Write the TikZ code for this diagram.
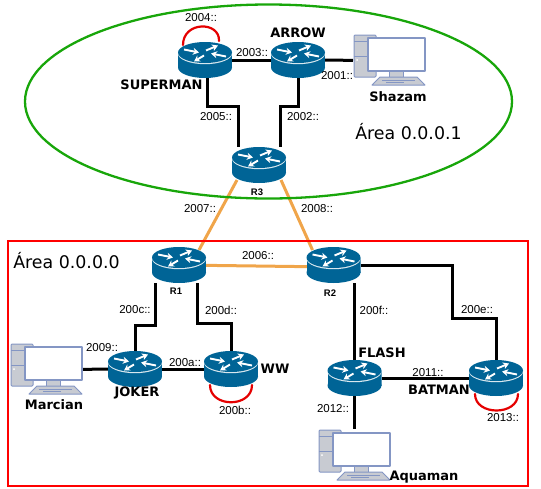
\documentclass[tikz,border=0pt]{standalone}
\usepackage{fontspec}
\setmainfont{Liberation Sans}
\newfontfamily\dvb{DejaVu Sans}
\usetikzlibrary{arrows.meta,backgrounds,calc,shapes.geometric}
\definecolor{rblue}{HTML}{006496}
\definecolor{pcedge}{HTML}{8496C4}
\definecolor{pcgray}{HTML}{C8CBD2}
\definecolor{areagreen}{HTML}{18A60A}
\definecolor{linkorange}{HTML}{F0A54A}
\newcommand{\routerart}{%
 \begin{scope}[shift={(path picture bounding box.center)},x=1pt,y=-1pt]
  \fill[rblue] (-27,-7.5) rectangle (27,7.5);
  \fill[rblue] (0,7.5) ellipse [x radius=27,y radius=10.5];
  \fill[white!85!rblue] (0,-6.3) ellipse [x radius=27,y radius=10.5];
  \fill[rblue] (0,-7.5) ellipse [x radius=27,y radius=10.5];
  \begin{scope}[white,line width=1.9pt,-{Stealth[length=6pt,width=7pt]}]
   \draw (-21,-10.5) -- (-6,-7.5);
   \draw (1,-9.5) -- (13,-14.5);
   \draw (21,-3.5) -- (6,-6.5);
   \draw (-1,-4.5) -- (-11,1.5);
  \end{scope}
 \end{scope}}
\newcommand{\pcart}{%
 \begin{scope}[x=1pt,y=-1pt,draw=pcedge,line width=1pt,line join=round]
  \draw[fill=pcgray,rounded corners=1pt] (-35.5,-25.5) rectangle (-13.5,16.5);
  \draw (-35.5,-19.5) -- (-13.5,-19.5) (-35.5,-4.5) -- (-13.5,-4.5);
  \fill[white] (-32.5,-0.5) circle [radius=1];
  \draw[fill=pcgray] (-0.5,10.5) rectangle (13.5,16.5);
  \draw[fill=white,line width=1.7pt] (-21.5,-22.5) rectangle (35.5,10.5);
  \draw[fill=pcgray] (-9.5,16.5) -- (27.5,16.5) -- (35.5,24.5) -- (-17.5,24.5) -- cycle;
  \draw[line width=.6pt] (-7.5,19.5) -- (25.5,19.5) (-3.5,22) -- (14.5,22);
 \end{scope}}
\tikzset{
 rtr/.style={rectangle,inner sep=0pt,outer sep=0pt,minimum width=54pt,minimum height=36pt,path picture={\routerart}},
 pc/.style={rectangle,inner sep=0pt,outer sep=0pt,minimum width=73pt,minimum height=53pt,path picture={\pcart}},
 addr/.style={font=\fontsize{11.5pt}{13pt}\selectfont,inner sep=0pt},
 bname/.style={font=\dvb\bfseries\fontsize{13pt}{15pt}\selectfont,inner sep=0pt},
 sname/.style={font=\bfseries\fontsize{9.5pt}{11pt}\selectfont,inner sep=0pt},
 areaname/.style={font=\dvb\fontsize{17.4pt}{20pt}\selectfont,inner sep=0pt},
 wire/.style={line width=3pt,black},
 orangewire/.style={line width=3pt,linkorange},
 loopwire/.style={line width=2.2pt,red!90!black,line cap=round}
}
\begin{document}
\begin{tikzpicture}[x=1pt,y=-1pt]
\useasboundingbox (0,0) rectangle (541,488);
% areas
\node[draw=areagreen,line width=2.3pt,ellipse,inner sep=0pt,outer sep=0pt,minimum width=487pt,minimum height=194pt] (ell) at (268.5,101.5) {};
\node[draw=red,line width=2pt,rectangle,inner sep=0pt,outer sep=0pt,minimum width=520pt,minimum height=245pt] (box) at (268,363.5) {};
% routers
\node[rtr] (sup) at (205,60) {};
\node[rtr] (arr) at (298,60) {};
\node[rtr] (r3) at (259,165) {};
\node[rtr] (r1) at (179,265) {};
\node[rtr] (r2) at (333.5,265) {};
\node[rtr] (jok) at (135,369) {};
\node[rtr] (ww) at (231,369) {};
\node[rtr] (fla) at (354.5,378) {};
\node[rtr] (bat) at (496,378) {};
% computers
\node[pc] (sha) at (389.5,60.5) {};
\node[pc] (mar) at (46.5,369.5) {};
\node[pc] (aqu) at (354.5,455.5) {};
% connectors
\begin{pgfonlayer}{background}
\draw[wire] (sup) -- (arr);
\draw[wire] (arr) -- (sha);
\draw[wire] ([xshift=2pt]sup.south) -- ++(0,28) -| ([xshift=-21pt]r3.north);
\draw[wire] (arr.south) -- ++(0,28) -| ([xshift=21pt]r3.north);
\draw[wire] (mar) -- (jok);
\draw[wire] (jok) -- (ww);
\draw[wire] ([xshift=-24pt]r1.south) -- ++(0,42) -| (jok.north);
\draw[wire] ([xshift=18pt]r1.south) -- ++(0,40) -| (ww.north);
\draw[wire] ([xshift=21pt]r2.south) -- (fla.north);
\draw[wire] (r2) -- ++(118.5,0) |- ($(bat.north)+(0,-42)$) -- (bat.north);
\draw[wire] (fla) -- (bat);
\draw[wire] (fla) -- (aqu);
\draw[orangewire] ([xshift=-22pt,yshift=3pt]r3.south) -- ([xshift=20pt,yshift=-3pt]r1.north);
\draw[orangewire] ([xshift=22pt,yshift=3pt]r3.south) -- ([xshift=-21pt,yshift=-3pt]r2.north);
\draw[orangewire] ([yshift=0pt]r1.center) -- ([yshift=-2pt]r2.center);
\draw[loopwire] ([xshift=-22pt,yshift=-3pt]sup.north) .. controls ([xshift=-22pt,yshift=21pt]sup.north) and ([xshift=15pt,yshift=21pt]sup.north) .. ([xshift=14pt,yshift=1pt]sup.north);
\draw[loopwire] ([xshift=-21pt,yshift=2pt]ww.south) .. controls ([xshift=-21pt,yshift=-21pt]ww.south) and ([xshift=21pt,yshift=-21pt]ww.south) .. ([xshift=21pt,yshift=2pt]ww.south);
\draw[loopwire] ([xshift=-21pt,yshift=2pt]bat.south) .. controls ([xshift=-21pt,yshift=-20pt]bat.south) and ([xshift=22pt,yshift=-20pt]bat.south) .. ([xshift=22pt,yshift=2pt]bat.south);
\end{pgfonlayer}
% labels
\node[addr] (l2004) at (201,18) {2004::};
\node[addr] (l2003) at (252,53) {2003::};
\node[addr] (l2001) at (337,76) {2001::};
\node[addr] (l2005) at (216,117) {2005::};
\node[addr] (l2002) at (303,117) {2002::};
\node[addr] (l2007) at (200,209) {2007::};
\node[addr] (l2008) at (317,209) {2008::};
\node[addr] (l2006) at (258,256) {2006::};
\node[addr] (l200c) at (135,310) {200c::};
\node[addr] (l200d) at (221,310) {200d::};
\node[addr] (l200f) at (374,310) {200f::};
\node[addr] (l200e) at (477,310) {200e::};
\node[addr] (l2009) at (102,348) {2009::};
\node[addr] (l200a) at (185,363) {200a::};
\node[addr] (l200b) at (235,410) {200b::};
\node[addr] (l2011) at (428,373) {2011::};
\node[addr] (l2013) at (503,418) {2013::};
\node[addr] (l2012) at (333,409) {2012::};
\node[bname] (nsup) at (161.5,85) {SUPERMAN};
\node[bname] (narr) at (298,33) {ARROW};
\node[bname] (nsha) at (398,97) {Shazam};
\node[bname] (nmar) at (54,405) {Marcian};
\node[bname] (njok) at (137,393) {JOKER};
\node[bname] (nww) at (275,369) {WW};
\node[bname] (nfla) at (382,353) {FLASH};
\node[bname] (nbat) at (439,390) {BATMAN};
\node[bname] (naqu) at (424,477) {Aquaman};
\node[sname] (nr3) at (257,192) {R3};
\node[sname] (nr1) at (176,291) {R1};
\node[sname] (nr2) at (330,293) {R2};
\node[areaname] (a1) at (408.5,132) {Área 0.0.0.1};
\node[areaname] (a0) at (66.5,261) {Área 0.0.0.0};
\end{tikzpicture}
\end{document}
